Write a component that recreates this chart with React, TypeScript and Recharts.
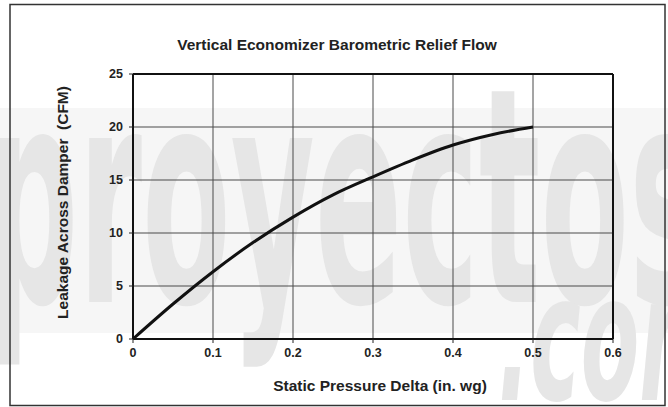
import { CartesianGrid, Line, LineChart, ReferenceLine, XAxis, YAxis, Label } from "recharts";

const pressure = [0, 0.05, 0.1, 0.15, 0.2, 0.25, 0.3, 0.35, 0.4, 0.45, 0.5];
const leakage = [0, 3.3, 6.35, 9.1, 11.5, 13.6, 15.3, 16.9, 18.3, 19.3, 20];
const xTicks = [0, 0.1, 0.2, 0.3, 0.4, 0.5, 0.6];
const yTicks = [0, 5, 10, 15, 20, 25];

const data = pressure.map((p, i) => ({ p, cfm: leakage[i] }));

const font = "'Liberation Sans', Arial, sans-serif";
const markFont = "'DejaVu Sans Condensed', 'Liberation Sans Narrow', sans-serif";
const tickStyle = { fontSize: 12.5, fontWeight: 700, fill: "#222", fontFamily: font };
const labelStyle = { fontSize: 15.5, fontWeight: 700, fill: "#222", fontFamily: font };

// faint site watermark that sits behind the chart
function Watermark() {
  return (
    <svg width={668} height={407} style={{ position: "absolute", left: 0, top: 0 }}>
      <rect x={0} y={108} width={668} height={225} fill="#f6f6f6" />
      <text
        x={-14}
        y={302}
        fontSize={300}
        fontWeight={700}
        fontFamily={markFont}
        fill="#e6e6e6"
        textLength={720}
        lengthAdjust="spacingAndGlyphs"
      >
        proyectos
      </text>
      <text
        x={498}
        y={400}
        fontSize={175}
        fontWeight={700}
        fontStyle="italic"
        fontFamily={markFont}
        fill="#e6e6e6"
        textLength={230}
        lengthAdjust="spacingAndGlyphs"
      >
        .com
      </text>
      <rect x={10} y={4.5} width={655} height={401} fill="none" stroke="#333" strokeWidth={1.5} />
    </svg>
  );
}

export default function App() {
  return (
    <div style={{ position: "absolute", left: 0, top: 0, width: 668, height: 407, background: "#fff", overflow: "hidden" }}>
      <Watermark />
      <div style={{ position: "absolute", left: 0, top: 0 }}>
        <LineChart width={668} height={407} data={data} margin={{ top: 74, right: 55, bottom: 38, left: 93 }}>
          <text x={337} y={50} textAnchor="middle" fontSize={15.5} fontWeight={700} fontFamily={font} fill="#222">
            Vertical Economizer Barometric Relief Flow
          </text>
          <CartesianGrid stroke="#4a4a4a" strokeWidth={1} horizontalValues={yTicks} verticalValues={xTicks} />
          <XAxis
            dataKey="p"
            type="number"
            domain={[0, 0.6]}
            ticks={xTicks}
            tick={tickStyle}
            tickLine={{ stroke: "#222" }}
            tickSize={4}
            tickMargin={5}
            axisLine={{ stroke: "#111", strokeWidth: 2 }}
            height={30}
          >
            <Label value="Static Pressure Delta (in. wg)" position="insideBottom" offset={-22} dx={7} style={labelStyle} />
          </XAxis>
          <YAxis
            type="number"
            domain={[0, 25]}
            ticks={yTicks}
            tick={tickStyle}
            tickLine={{ stroke: "#222" }}
            tickSize={4}
            tickMargin={6}
            axisLine={{ stroke: "#111", strokeWidth: 2 }}
            width={40}
          >
            <Label
              value={"Leakage Across Damper\u00a0\u00a0(CFM)"}
              angle={-90}
              position="insideLeft"
              offset={-31}
              dy={-4}
              style={{ ...labelStyle, textAnchor: "middle" }}
            />
          </YAxis>
          <ReferenceLine y={25} stroke="#111" strokeWidth={2} />
          <ReferenceLine x={0.6} stroke="#111" strokeWidth={2} />
          <Line type="monotone" dataKey="cfm" stroke="#111" strokeWidth={3} dot={false} isAnimationActive={false} />
        </LineChart>
      </div>
    </div>
  );
}
